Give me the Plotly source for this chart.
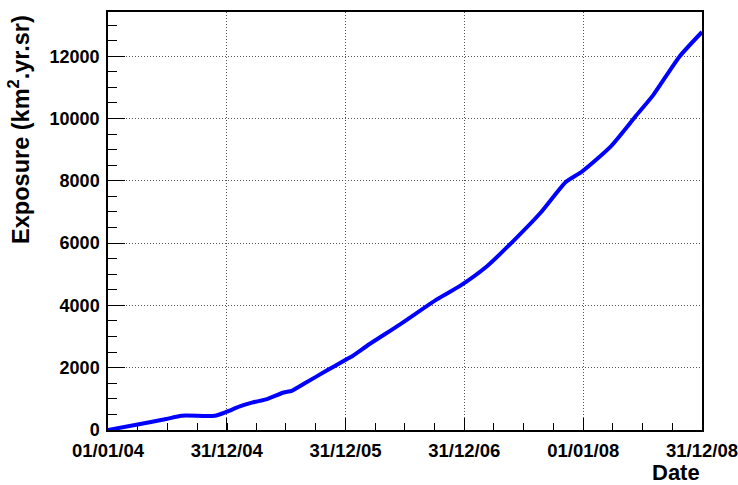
import plotly.graph_objects as go

dates = ["2004-01-01", "2004-03-28", "2004-06-28", "2004-08-14", "2004-11-24",
         "2004-12-31", "2005-02-09", "2005-03-21", "2005-05-04", "2005-06-24",
         "2005-07-19", "2005-09-01", "2005-11-02", "2005-12-29", "2006-01-22",
         "2006-03-14", "2006-06-17", "2006-10-08", "2006-12-17", "2007-03-11",
         "2007-05-30", "2007-08-22", "2007-11-10", "2007-12-28", "2008-03-25",
         "2008-06-13", "2008-08-03", "2008-10-22", "2008-12-31"]
exposure = [0, 170, 352, 458, 458,
            587, 757, 885, 992, 1205,
            1259, 1525, 1899, 2240, 2378,
            2752, 3392, 4192, 4618, 5258,
            6058, 6966, 7978, 8298, 9098,
            10112, 10752, 11978, 12778]

x_tickvals = ["2004-01-01", "2004-12-31", "2005-12-31", "2006-12-31", "2008-01-01", "2008-12-31"]
x_ticktext = ["01/01/04", "31/12/04", "31/12/05", "31/12/06", "01/01/08", "31/12/08"]
y_tickvals = [0, 2000, 4000, 6000, 8000, 10000, 12000]
y_ticktext = ["0", "2000", "4000", "6000", "8000", "10000", "12000"]

FONT = "Liberation Sans, Arial, Helvetica, sans-serif"

fig = go.Figure()
fig.add_trace(go.Scatter(x=dates, y=exposure, mode="lines",
                         line=dict(color="#0000ff", width=4, shape="spline", smoothing=0.6),
                         showlegend=False))

fig.update_layout(
    width=738, height=485,
    margin=dict(l=108, r=36, t=12, b=55),
    paper_bgcolor="white", plot_bgcolor="white",
    font=dict(family=FONT, color="black"),
)
fig.update_xaxes(
    type="date", range=["2004-01-01", "2008-12-31"], automargin=False,
    tickmode="array", tickvals=x_tickvals, ticktext=x_ticktext,
    ticks="inside", ticklen=12, tickwidth=1, tickcolor="black",
    tickfont=dict(size=18.5, family=FONT, weight="bold", color="black"),
    ticklabelstandoff=3, ticklabeloverflow="allow",
    minor=dict(ticks="inside", ticklen=7, tickwidth=1, tickcolor="black",
               dtick="M3", tick0="2004-01-01", showgrid=False),
    showline=True, linecolor="black", linewidth=1.5, mirror=True,
    showgrid=True, gridcolor="#555555", gridwidth=1, griddash="1px,2px",
    zeroline=False,
)
fig.update_yaxes(
    range=[0, 13420], automargin=False,
    tickmode="array", tickvals=y_tickvals, ticktext=y_ticktext,
    ticks="inside", ticklen=17, tickwidth=1, tickcolor="black",
    tickfont=dict(size=18, family=FONT, weight="bold", color="black"),
    ticklabelstandoff=3, ticklabeloverflow="allow",
    minor=dict(ticks="inside", ticklen=9, tickwidth=1, tickcolor="black",
               dtick=500, tick0=0, showgrid=False),
    showline=True, linecolor="black", linewidth=1.5, mirror=True,
    showgrid=True, gridcolor="#555555", gridwidth=1, griddash="1px,2px",
    zeroline=False,
)
fig.add_annotation(
    text="Exposure (km<sup>2</sup>.yr.sr)", textangle=-90,
    xref="paper", yref="paper", x=-0.121, y=0.997,
    xanchor="right", yanchor="top", showarrow=False,
    font=dict(size=23.5, family=FONT, weight="bold", color="black"),
)
fig.add_annotation(
    text="Date", xref="paper", yref="paper", x=1.0, y=-0.1025,
    xanchor="right", yanchor="middle", showarrow=False,
    font=dict(size=22, family=FONT, weight="bold", color="black"),
)
fig.write_html("out.html", config={"displayModeBar": False},
               post_script="document.body.style.margin='0';document.body.style.padding='0';")
